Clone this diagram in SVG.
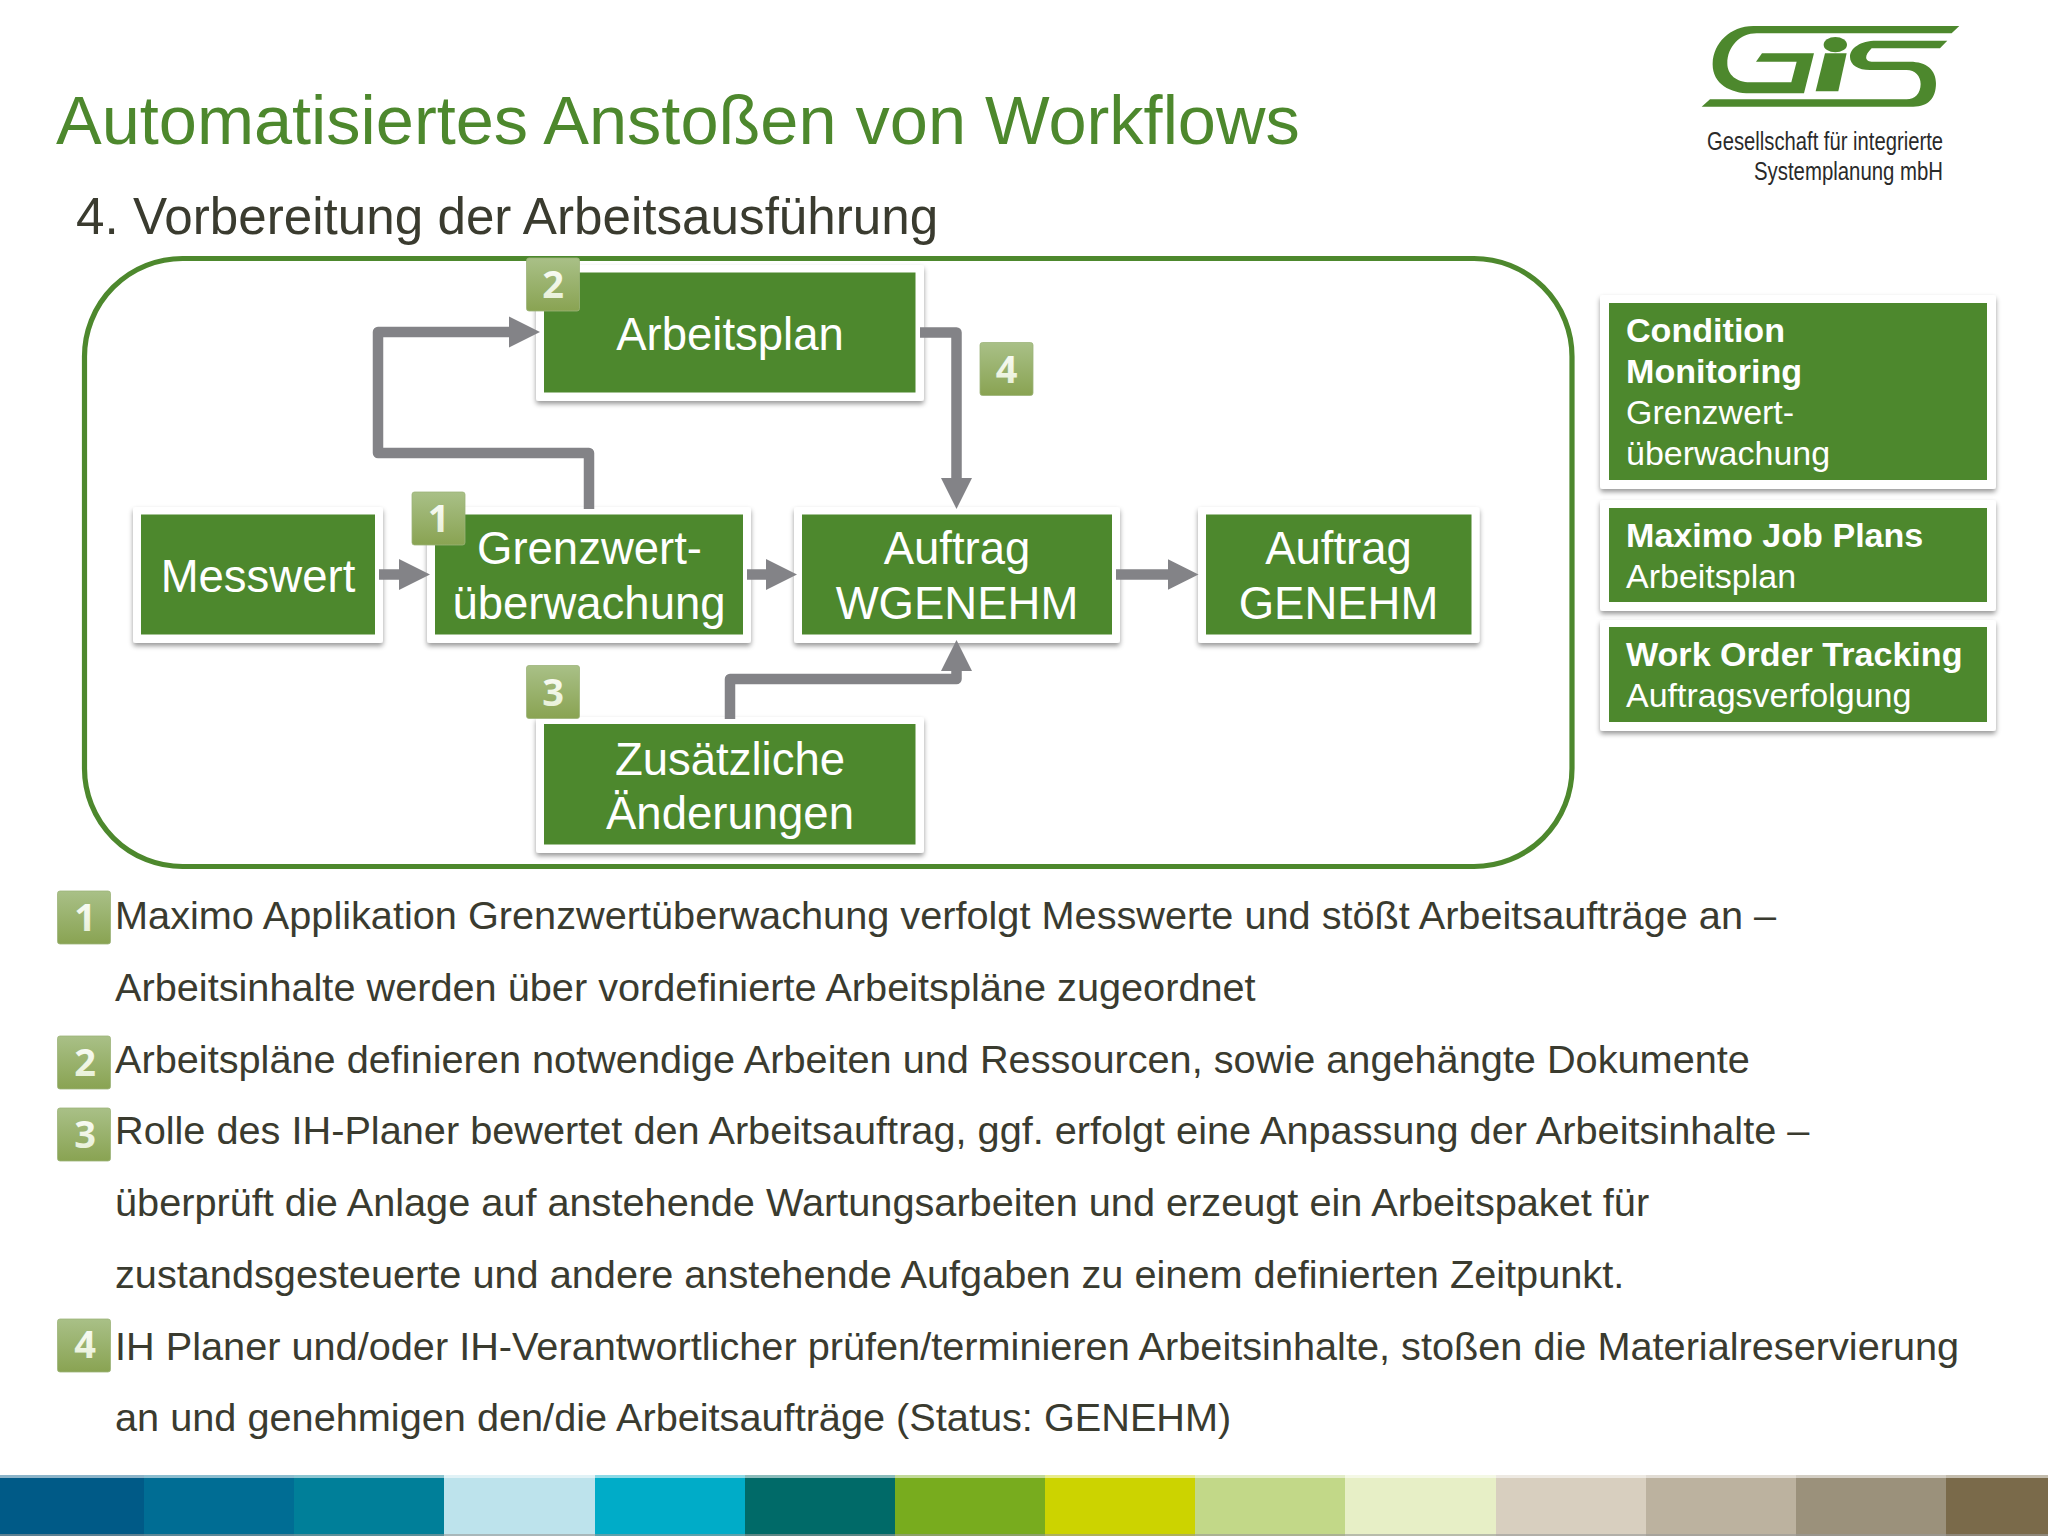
<svg xmlns="http://www.w3.org/2000/svg" width="2048" height="1536" viewBox="0 0 2048 1536">
<defs>
<filter id="sh" x="-10%" y="-10%" width="120%" height="125%"><feDropShadow dx="0" dy="3" stdDeviation="2.5" flood-color="#000" flood-opacity="0.4"/></filter>
<linearGradient id="bg" x1="0" y1="0" x2="0" y2="1"><stop offset="0" stop-color="#a9c087"/><stop offset="1" stop-color="#89a352"/></linearGradient>
<linearGradient id="ng" x1="0" y1="0" x2="0" y2="1"><stop offset="0" stop-color="#ffffff"/><stop offset="1" stop-color="#e3edd0"/></linearGradient>
<marker id="ah" markerUnits="userSpaceOnUse" markerWidth="32" markerHeight="32" refX="11" refY="16" orient="auto"><path d="M0,0.5 L31,16 L0,31.5 Z" fill="#838387"/></marker>
<g id="badge"><rect x="0" y="0" width="53" height="53" rx="2.5" fill="url(#bg)" stroke="#9db47a" stroke-width="0.8"/></g>
</defs>
<style>
.f{font-family:"Liberation Sans",Arial,sans-serif}
.frame{fill:#fff;filter:url(#sh)}
.box{fill:#4d882d}
.nl{font-family:"Liberation Sans",Arial,sans-serif;font-size:45.5px;fill:#fff;text-anchor:middle}
.pb{font-family:"Liberation Sans",Arial,sans-serif;font-size:34.1px;font-weight:bold;fill:#fff}
.pr{font-family:"Liberation Sans",Arial,sans-serif;font-size:34px;fill:#fff}
.body{font-family:"Liberation Sans",Arial,sans-serif;font-size:39.7px;fill:#3a3b2f}
.num{font-family:"Noto Sans","Liberation Sans",sans-serif;font-size:38px;font-weight:bold;fill:url(#ng);text-anchor:middle}
.con{fill:none;stroke:#838387;stroke-width:10.500;stroke-linejoin:round}
</style>
<rect width="2048" height="1536" fill="#fff"/>

<g id="title">
<text class="f" x="56" y="144" font-size="68.5" fill="#4d882d">Automatisiertes Anstoßen von Workflows</text>
<text class="f" x="76" y="234" font-size="51.2" fill="#3a3b2f">4. Vorbereitung der Arbeitsausführung</text>
</g>

<g id="logo">
<g transform="translate(1650,0) scale(0.3333)" fill="#4d882d">
<path d="M928,78 L310,78 C240,78 190,130 188,190 C186,250 240,280 300,280 L462,280 L492,160 L336,160 L318,185 L440,185 L424,247 L300,247 C260,247 232,225 232,190 C232,140 270,100 320,100 L905,100 Z"/>
<ellipse cx="556" cy="134" rx="35" ry="23"/>
<path d="M525,160 L590,160 L565,274 L497,274 Z"/>
<path d="M892,122 L680,122 C630,122 600,145 600,170 C600,195 625,210 660,210 L770,210 C795,210 812,228 812,252 C812,280 795,298 770,298 L180,298 L155,320 L790,320 C835,320 858,295 858,250 C858,210 830,185 780,185 L670,185 C645,185 640,170 665,145 L870,145 Z"/>
</g>
<text class="f" x="1943" y="150" font-size="26" fill="#2a2a2a" text-anchor="end" textLength="236" lengthAdjust="spacingAndGlyphs">Gesellschaft für integrierte</text>
<text class="f" x="1943" y="180" font-size="26" fill="#2a2a2a" text-anchor="end" textLength="189" lengthAdjust="spacingAndGlyphs">Systemplanung mbH</text>
</g>

<g id="frame"><rect x="84.500" y="258.500" width="1487.500" height="608" rx="98" fill="none" stroke="#4d882d" stroke-width="5.200"/></g>

<g id="node-messwert"><rect class="frame" x="133" y="507" width="250" height="136" rx="3"/><rect class="box" x="141" y="514.500" width="234" height="120"/><text class="nl" x="258" y="591.500">Messwert</text></g>
<g id="node-grenzwert"><rect class="frame" x="427" y="507" width="324" height="136" rx="3"/><rect class="box" x="435" y="514.500" width="308" height="120"/><text class="nl" x="589.500" y="564">Grenzwert-</text><text class="nl" x="589" y="619">überwachung</text></g>
<g id="node-arbeitsplan"><rect class="frame" x="536" y="265" width="388" height="136" rx="3"/><rect class="box" x="544" y="272.500" width="371.500" height="120"/><text class="nl" x="730" y="350">Arbeitsplan</text></g>
<g id="node-wgenehm"><rect class="frame" x="794" y="507" width="326" height="136" rx="3"/><rect class="box" x="802" y="514.500" width="310" height="120"/><text class="nl" x="957" y="564">Auftrag</text><text class="nl" x="957" y="619">WGENEHM</text></g>
<g id="node-genehm"><rect class="frame" x="1198" y="507" width="281.500" height="136" rx="3"/><rect class="box" x="1206" y="514.500" width="265.500" height="120"/><text class="nl" x="1338.500" y="564">Auftrag</text><text class="nl" x="1338.500" y="619">GENEHM</text></g>
<g id="node-zusatz"><rect class="frame" x="536" y="717" width="388" height="136" rx="3"/><rect class="box" x="544" y="724" width="371.500" height="120.500"/><text class="nl" x="730" y="774.500">Zusätzliche</text><text class="nl" x="730" y="829">Änderungen</text></g>

<g id="connectors">
<path class="con" d="M379,574.500 L410,574.500" marker-end="url(#ah)"/>
<path class="con" d="M589,509 L589,453 L378,453 L378,332 L520,332" marker-end="url(#ah)"/>
<path class="con" d="M747,574.500 L777,574.500" marker-end="url(#ah)"/>
<path class="con" d="M1116,574.500 L1178.500,574.500" marker-end="url(#ah)"/>
<path class="con" d="M920,332.500 L956.500,332.500 L956.500,489" marker-end="url(#ah)"/>
<path class="con" d="M730,719 L730,679 L956.500,679 L956.500,660" marker-end="url(#ah)"/>
</g>

<g id="badge-n1"><use href="#badge" x="412" y="492"/><text class="num" x="438.500" y="532">1</text></g>
<g id="badge-n2"><use href="#badge" x="526.500" y="258"/><text class="num" x="553" y="298">2</text></g>
<g id="badge-n3"><use href="#badge" x="526.500" y="665.500"/><text class="num" x="553" y="705.500">3</text></g>
<g id="badge-n4"><use href="#badge" x="980" y="342.500"/><text class="num" x="1006.500" y="382.500">4</text></g>

<g id="panel-cm"><rect class="frame" x="1600" y="295" width="396" height="194" rx="3"/><rect class="box" x="1609" y="303" width="378" height="177"/>
<text class="pb" x="1626" y="342">Condition</text><text class="pb" x="1626" y="383">Monitoring</text><text class="pr" x="1626" y="424">Grenzwert-</text><text class="pr" x="1626" y="465">überwachung</text></g>
<g id="panel-jp"><rect class="frame" x="1600" y="500" width="396" height="111" rx="3"/><rect class="box" x="1609" y="508" width="378" height="94"/>
<text class="pb" x="1626" y="547">Maximo Job Plans</text><text class="pr" x="1626" y="588">Arbeitsplan</text></g>
<g id="panel-wo"><rect class="frame" x="1600" y="620" width="396" height="111" rx="3"/><rect class="box" x="1609" y="627" width="378" height="95"/>
<text class="pb" x="1626" y="666">Work Order Tracking</text><text class="pr" x="1626" y="707">Auftragsverfolgung</text></g>

<g id="legend">
<use href="#badge" x="57.500" y="891"/><text class="num" x="85" y="930.500">1</text>
<use href="#badge" x="57.500" y="1036"/><text class="num" x="85" y="1076">2</text>
<use href="#badge" x="57.500" y="1108"/><text class="num" x="85" y="1148">3</text>
<use href="#badge" x="57.500" y="1319"/><text class="num" x="85" y="1358">4</text>
<text class="body" x="115" y="929">Maximo Applikation Grenzwertüberwachung verfolgt Messwerte und stößt Arbeitsaufträge an –</text>
<text class="body" x="115" y="1001">Arbeitsinhalte werden über vordefinierte Arbeitspläne zugeordnet</text>
<text class="body" x="115" y="1072.500">Arbeitspläne definieren notwendige Arbeiten und Ressourcen, sowie angehängte Dokumente</text>
<text class="body" x="115" y="1144">Rolle des IH-Planer bewertet den Arbeitsauftrag, ggf. erfolgt eine Anpassung der Arbeitsinhalte –</text>
<text class="body" x="115" y="1216">überprüft die Anlage auf anstehende Wartungsarbeiten und erzeugt ein Arbeitspaket für</text>
<text class="body" x="115" y="1288">zustandsgesteuerte und andere anstehende Aufgaben zu einem definierten Zeitpunkt.</text>
<text class="body" x="115" y="1359.500">IH Planer und/oder IH-Verantwortlicher prüfen/terminieren Arbeitsinhalte, stoßen die Materialreservierung</text>
<text class="body" x="115" y="1431">an und genehmigen den/die Arbeitsaufträge (Status: GENEHM)</text>
</g>

<g id="colour-bar">
<rect x="0" y="1475" width="144" height="61" fill="#005a87"/>
<rect x="144" y="1475" width="150" height="61" fill="#006d94"/>
<rect x="294" y="1475" width="150" height="61" fill="#007f99"/>
<rect x="444" y="1475" width="151" height="61" fill="#bde3ec"/>
<rect x="595" y="1475" width="150" height="61" fill="#00acc8"/>
<rect x="745" y="1475" width="150" height="61" fill="#006a68"/>
<rect x="895" y="1475" width="150" height="61" fill="#78ac1e"/>
<rect x="1045" y="1475" width="150" height="61" fill="#ccd300"/>
<rect x="1195" y="1475" width="150" height="61" fill="#c2d888"/>
<rect x="1345" y="1475" width="151" height="61" fill="#e7efc6"/>
<rect x="1496" y="1475" width="150" height="61" fill="#d8cfbf"/>
<rect x="1646" y="1475" width="150" height="61" fill="#bcb29f"/>
<rect x="1796" y="1475" width="150" height="61" fill="#9b917b"/>
<rect x="1946" y="1475" width="102" height="61" fill="#7a6a4a"/>
<rect x="0" y="1475" width="2048" height="3" fill="#fff" opacity="0.55"/>
<rect x="0" y="1534" width="2048" height="2" fill="#999" opacity="0.6"/>
</g>
</svg>
